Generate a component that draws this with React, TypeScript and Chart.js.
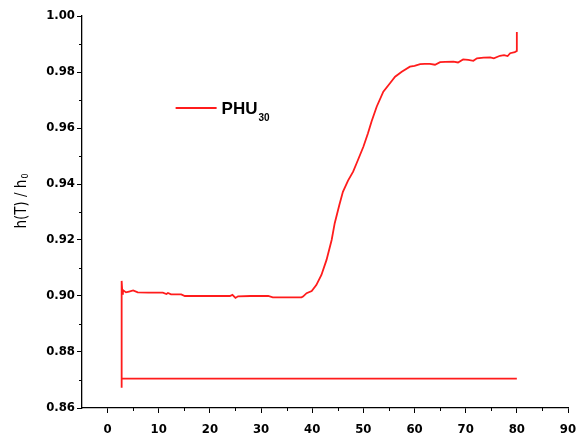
import { useEffect, useRef } from "react";
import { Chart, registerables } from "chart.js";

Chart.register(...registerables);

// Cooling branch (drawn first, right to left) then the drop at the left end
const lowerX = [80.0, 2.75, 2.75];
const lowerY = [0.8705, 0.8705, 0.8672];

// Heating branch
const upperX = [
  2.75, 2.9, 3.0, 3.6, 4.2, 5.0, 5.9, 8.0, 10.8, 11.5, 11.8, 12.4, 14.4, 15.1, 18.0, 21.0,
  23.9, 24.4, 25.0, 25.5, 28.0, 31.4, 32.3, 35.0, 37.9, 38.2, 38.9, 39.9, 40.8, 41.8, 42.8,
  43.8, 44.4, 45.3, 46.0, 47.0, 48.0, 48.7, 50.0, 50.9, 51.6, 52.6, 53.9, 55.2, 56.2, 57.5,
  59.1, 60.0, 61.1, 62.0, 63.0, 64.0, 65.0, 66.0, 67.6, 68.5, 69.5, 70.5, 71.5, 72.2, 73.5,
  74.8, 75.5, 76.7, 77.5, 78.2, 78.7, 79.6, 80.0, 80.0, 80.0,
];
const upperY = [
  0.9054, 0.9008, 0.9021, 0.9013, 0.9016, 0.902, 0.9013, 0.9012, 0.9012, 0.9007, 0.9011,
  0.9006, 0.9006, 0.9, 0.9, 0.9, 0.9, 0.9004, 0.8993, 0.8999, 0.9, 0.9, 0.8995, 0.8995,
  0.8995, 0.8998, 0.901, 0.9018, 0.9039, 0.9075, 0.9129, 0.92, 0.926, 0.9325, 0.9372, 0.9412,
  0.9444, 0.9475, 0.9533, 0.9581, 0.9623, 0.9676, 0.973, 0.976, 0.9783, 0.9801, 0.9819,
  0.9822, 0.9828, 0.9829, 0.9829, 0.9826, 0.9835, 0.9836, 0.9837, 0.9834, 0.9845, 0.9843,
  0.984, 0.9849, 0.9851, 0.9852, 0.9849, 0.9858, 0.986, 0.9857, 0.9867, 0.9871, 0.9875,
  0.9943, 0.9878,
];

const xMajorTicks = [0, 10, 20, 30, 40, 50, 60, 70, 80, 90];
const xMinorTicks = [5, 15, 25, 35, 45, 55, 65, 75, 85];
const yMajorTicks = [0.86, 0.88, 0.9, 0.92, 0.94, 0.96, 0.98, 1.0];
const yMinorTicks = [0.87, 0.89, 0.91, 0.93, 0.95, 0.97, 0.99];

const seriesLabel = "PHU";
const seriesLabelSub = "30";
const yTitle = "h(T) / h";
const yTitleSub = "0";

const lineColor = "rgb(255,28,28)";
const tickFont = "DejaVu Sans Condensed";

export default function App() {
  const ref = useRef<HTMLCanvasElement>(null);

  useEffect(() => {
    if (!ref.current) return;
    const points = [
      ...lowerX.map((x, i) => ({ x, y: lowerY[i] })),
      ...upperX.map((x, i) => ({ x, y: upperY[i] })),
    ];

    const overlay = {
      id: "overlay",
      afterDraw(chart: any) {
        const ctx = chart.ctx as CanvasRenderingContext2D;
        const xs = chart.scales.x;
        const ys = chart.scales.y;
        ctx.save();
        ctx.strokeStyle = "#000";
        ctx.lineWidth = 1;
        xMinorTicks.forEach((v) => {
          const px = Math.round(xs.getPixelForValue(v)) + 0.5;
          ctx.beginPath();
          ctx.moveTo(px, xs.top);
          ctx.lineTo(px, xs.top + 3);
          ctx.stroke();
        });
        yMinorTicks.forEach((v) => {
          const py = Math.round(ys.getPixelForValue(v)) + 0.5;
          ctx.beginPath();
          ctx.moveTo(ys.right, py);
          ctx.lineTo(ys.right - 3, py);
          ctx.stroke();
        });

        // y axis title with subscript
        ctx.fillStyle = "#000";
        ctx.font = `15px "${tickFont}"`;
        const w1 = ctx.measureText(yTitle).width;
        ctx.font = `9px "${tickFont}"`;
        const w2 = ctx.measureText(yTitleSub).width;
        const cy = (chart.chartArea.top + chart.chartArea.bottom) / 2 - 11;
        ctx.translate(26, cy);
        ctx.rotate(-Math.PI / 2);
        ctx.textBaseline = "alphabetic";
        ctx.textAlign = "left";
        const start = -(w1 + w2 + 1) / 2;
        ctx.font = `15px "${tickFont}"`;
        ctx.fillText(yTitle, start, 0);
        ctx.font = `9px "${tickFont}"`;
        ctx.fillText(yTitleSub, start + w1 + 1, 2);
        ctx.setTransform(1, 0, 0, 1, 0, 0);

        // legend
        const lx = xs.getPixelForValue(13.3);
        const ly = ys.getPixelForValue(0.9671);
        ctx.strokeStyle = lineColor;
        ctx.lineWidth = 2;
        ctx.beginPath();
        ctx.moveTo(lx, ly);
        ctx.lineTo(lx + 41, ly);
        ctx.stroke();
        ctx.fillStyle = "#000";
        ctx.font = `bold 17px "Liberation Sans"`;
        ctx.textBaseline = "alphabetic";
        ctx.fillText(seriesLabel, lx + 46, ly + 6);
        const pw = ctx.measureText(seriesLabel).width;
        ctx.font = `bold 10px "Liberation Sans"`;
        ctx.fillText(seriesLabelSub, lx + 46 + pw + 1, ly + 13);
        ctx.restore();
      },
    };

    const axisCommon = {
      type: "linear" as const,
      grid: {
        drawOnChartArea: false,
        drawTicks: true,
        tickLength: 5,
        color: "#000",
        tickColor: "#000",
        lineWidth: 1,
      },
      border: { display: true, color: "#000", width: 1.3 },
    };

    const chart = new Chart(ref.current, {
      type: "scatter",
      data: {
        datasets: [
          {
            data: points,
            showLine: true,
            borderColor: lineColor,
            backgroundColor: lineColor,
            borderWidth: 1.8,
            pointRadius: 0,
            fill: false,
            tension: 0,
          },
        ],
      },
      options: {
        responsive: false,
        animation: false,
        events: [],
        layout: { padding: { top: 16, right: 15, left: 0, bottom: 0 } },
        plugins: { legend: { display: false }, tooltip: { enabled: false } },
        scales: {
          x: {
            ...axisCommon,
            min: -5,
            max: 90,
            afterBuildTicks: (s: any) => {
              s.ticks = xMajorTicks.map((v) => ({ value: v }));
            },
            afterFit: (s: any) => {
              s.height = 33;
              s.paddingRight = 0;
              s.paddingLeft = 0;
            },
            ticks: {
              color: "#000",
              autoSkip: false,
              maxRotation: 0,
              padding: 9,
              font: { family: tickFont, weight: "bold", size: 13 },
              callback: (v: any) => String(v),
            },
          },
          y: {
            ...axisCommon,
            min: 0.86,
            max: 1.0,
            afterBuildTicks: (s: any) => {
              s.ticks = yMajorTicks.map((v) => ({ value: v }));
            },
            afterFit: (s: any) => {
              s.width = 82;
            },
            ticks: {
              color: "#000",
              autoSkip: false,
              padding: 2,
              font: { family: tickFont, weight: "bold", size: 13 },
              callback: (v: any) => Number(v).toFixed(2),
            },
          },
        },
      },
      plugins: [overlay],
    } as any);
    return () => chart.destroy();
  }, []);

  return (
    <div style={{ position: "absolute", left: 0, top: 0, width: 583, height: 441, background: "#fff" }}>
      <canvas ref={ref} width={583} height={441} style={{ width: 583, height: 441, display: "block" }} />
    </div>
  );
}
